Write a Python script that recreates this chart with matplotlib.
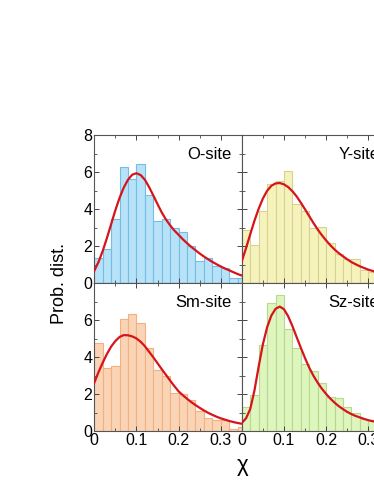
import numpy as np
import matplotlib
matplotlib.use('Agg')
import matplotlib.pyplot as plt
from matplotlib.ticker import MultipleLocator

plt.rcParams['font.family'] = ['Liberation Sans', 'DejaVu Sans']

# 直方图: 0.02 宽的 bin, 从 0 开始
BIN_WIDTH = 0.02
o_site_hist = [1.37, 1.84, 3.50, 6.29, 5.62, 6.43, 4.77, 3.35, 3.50, 2.99,
               2.79, 2.00, 1.19, 1.37, 0.94, 0.83, 0.29, 0.27]
y_site_hist = [2.86, 2.06, 3.91, 5.35, 5.51, 6.06, 4.29, 3.91, 2.97, 3.02,
               2.17, 1.61, 1.29, 1.29, 0.72, 0.63]
sm_site_hist = [4.79, 3.42, 3.53, 6.05, 6.34, 5.86, 4.50, 3.32, 3.01, 2.09,
                2.02, 1.69, 1.10, 0.70, 0.61, 0.61, 0.13, 0.22]
sz_site_hist = [1.32, 1.96, 4.66, 6.93, 7.37, 5.53, 4.49, 3.62, 3.27, 2.63,
                1.83, 1.78, 1.33, 1.01, 0.68, 0.62]

# 拟合曲线 (每 0.01 读取一个点)
chi_grid = np.round(np.arange(0, 0.3501, 0.01), 2)
o_site_fit = [0.68, 1.15, 1.75, 2.45, 3.20, 3.95, 4.62, 5.18, 5.60, 5.87,
              5.95, 5.85, 5.60, 5.20, 4.75, 4.28, 3.83, 3.45, 3.13, 2.85,
              2.62, 2.38, 2.17, 1.97, 1.79, 1.61, 1.45, 1.30, 1.16, 1.03,
              0.91, 0.80, 0.70, 0.60, 0.50, 0.42]
y_site_fit = [1.19, 1.90, 2.65, 3.38, 4.03, 4.58, 5.00, 5.27, 5.40, 5.42,
              5.35, 5.20, 4.98, 4.70, 4.36, 4.00, 3.63, 3.26, 2.91, 2.60,
              2.32, 2.06, 1.83, 1.63, 1.46, 1.30, 1.15, 1.03, 0.92, 0.83,
              0.74, 0.67, 0.60, 0.54, 0.49, 0.44]
sm_site_fit = [2.63, 3.20, 3.71, 4.18, 4.58, 4.88, 5.10, 5.20, 5.19, 5.13,
               5.02, 4.84, 4.60, 4.30, 4.00, 3.68, 3.36, 3.05, 2.74, 2.44,
               2.16, 1.95, 1.76, 1.58, 1.42, 1.27, 1.13, 1.00, 0.89, 0.79,
               0.70, 0.63, 0.56, 0.50, 0.45, 0.41]
sz_site_fit = [0.45, 0.70, 1.20, 2.20, 3.50, 4.70, 5.62, 6.25, 6.62, 6.74,
               6.60, 6.22, 5.69, 5.10, 4.52, 3.96, 3.44, 3.00, 2.63, 2.30,
               2.02, 1.77, 1.55, 1.36, 1.20, 1.05, 0.93, 0.83, 0.75, 0.67,
               0.60, 0.55, 0.50, 0.46, 0.42, 0.39]

site_names = ['O-site', 'Y-site', 'Sm-site', 'Sz-site']
face_colors = ['#b7e2f8', '#f6f2bc', '#fad4b6', '#def5be']
edge_colors = ['#72bfe6', '#d8d290', '#f4b17e', '#b4da8e']

FIG_W, FIG_H = 374, 484
DPI = 100
AX_LEFT = [94.3, 241.8]
AX_TOP = [135.3, 283.3]
AX_W, AX_H = 147.5, 148.0


def style_axis(ax, show_x, show_y, top_row):
    ax.set_xlim(0, 0.35)
    ax.set_ylim(0, 8)
    ax.xaxis.set_major_locator(MultipleLocator(0.1))
    ax.xaxis.set_minor_locator(MultipleLocator(0.05))
    ax.yaxis.set_major_locator(MultipleLocator(2))
    ax.yaxis.set_minor_locator(MultipleLocator(1))
    ax.tick_params(which='both', direction='in', top=True, right=True,
                   colors='#444444', labelcolor='black', labelsize=11.5, pad=1.5)
    ax.tick_params(which='major', length=3.5, width=0.7)
    ax.tick_params(which='minor', length=2, width=0.6)
    for s in ax.spines.values():
        s.set_color('#555555')
        s.set_linewidth(0.8)
    if show_x:
        ax.set_xticks([0, 0.1, 0.2, 0.3])
        ax.set_xticklabels(['0', '0.1', '0.2', '0.3'])
    else:
        ax.tick_params(labelbottom=False)
    if show_y:
        ax.set_yticks([0, 2, 4, 6, 8])
        if top_row:
            ax.set_yticklabels(['0', '2', '4', '6', '8'])
        else:
            ax.set_yticklabels(['0', '2', '4', '6', ''])
    else:
        ax.tick_params(labelleft=False)


def main():
    fig = plt.figure(figsize=(FIG_W / DPI, FIG_H / DPI), dpi=DPI)
    hists = [o_site_hist, y_site_hist, sm_site_hist, sz_site_hist]
    fits = [o_site_fit, y_site_fit, sm_site_fit, sz_site_fit]

    for i in range(4):
        row, col = divmod(i, 2)
        left = AX_LEFT[col] / FIG_W
        bottom = (FIG_H - AX_TOP[row] - AX_H) / FIG_H
        ax = fig.add_axes([left, bottom, AX_W / FIG_W, AX_H / FIG_H])

        h = hists[i]
        starts = np.arange(len(h)) * BIN_WIDTH
        ax.bar(starts, h, width=BIN_WIDTH, align='edge',
               color=face_colors[i], edgecolor=edge_colors[i], linewidth=0.8, zorder=1)
        ax.plot(chi_grid, fits[i], color='#d7141c', lw=1.6, zorder=3)

        ax.text(0.932, 0.87, site_names[i], transform=ax.transAxes,
                ha='right', va='center', fontsize=12)
        style_axis(ax, show_x=(row == 1), show_y=(col == 0), top_row=(row == 0))

    fig.text(60 / FIG_W, 1 - 283.3 / FIG_H, 'Prob. dist.', rotation=90,
             ha='center', va='center', fontsize=13)
    fig.text(243 / FIG_W, 1 - 466 / FIG_H, 'χ', ha='center', va='center', fontsize=16)

    fig.savefig('out.png', dpi=DPI)
    plt.close(fig)


if __name__ == '__main__':
    main()
